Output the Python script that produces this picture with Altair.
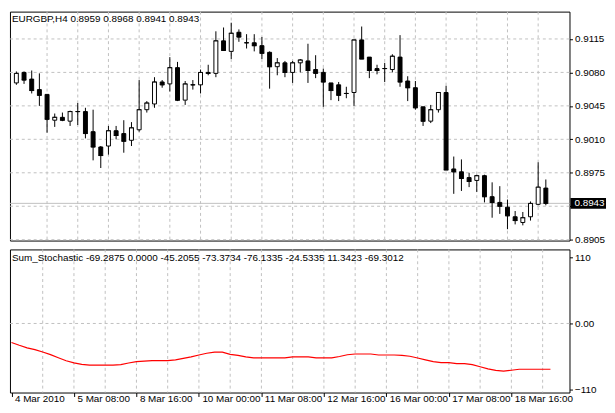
import altair as alt
import pandas as pd

symbol = "EURGBP,H4"
bars = list(range(70))
opens = [0.9069, 0.9080, 0.9073, 0.9062, 0.9057, 0.9030, 0.9033, 0.9029, 0.9039, 0.9039,
         0.9018, 0.9002, 0.9003, 0.9019, 0.9016, 0.9009, 0.9020, 0.9041, 0.9047, 0.9070,
         0.9068, 0.9085, 0.9051, 0.9067, 0.9067, 0.9080, 0.9079, 0.9113, 0.9102, 0.9122,
         0.9111, 0.9111, 0.9108, 0.9101, 0.9086, 0.9090, 0.9080, 0.9090, 0.9092, 0.9083,
         0.9080, 0.9069, 0.9067, 0.9058, 0.9059, 0.9114, 0.9096, 0.9084, 0.9084, 0.9083,
         0.9096, 0.9071, 0.9064, 0.9044, 0.9029, 0.9041, 0.9059, 0.8979, 0.8976, 0.8970,
         0.8967, 0.8972, 0.8950, 0.8944, 0.8939, 0.8929, 0.8923, 0.8929, 0.8942, 0.8959]
highs = [0.9081, 0.9081, 0.9082, 0.9079, 0.9057, 0.9037, 0.9038, 0.9040, 0.9048, 0.9043,
         0.9041, 0.9003, 0.9024, 0.9024, 0.9030, 0.9028, 0.9072, 0.9050, 0.9075, 0.9072,
         0.9096, 0.9091, 0.9071, 0.9072, 0.9083, 0.9088, 0.9123, 0.9127, 0.9132, 0.9125,
         0.9120, 0.9120, 0.9117, 0.9102, 0.9095, 0.9092, 0.9092, 0.9094, 0.9110, 0.9098,
         0.9084, 0.9069, 0.9070, 0.9065, 0.9114, 0.9128, 0.9096, 0.9088, 0.9090, 0.9099,
         0.9119, 0.9076, 0.9071, 0.9044, 0.9046, 0.9059, 0.9066, 0.8992, 0.8989, 0.8975,
         0.8973, 0.8973, 0.8965, 0.8961, 0.8947, 0.8935, 0.8934, 0.8945, 0.8986, 0.8968]
lows = [0.9067, 0.9068, 0.9058, 0.9045, 0.9017, 0.9023, 0.9029, 0.9024, 0.9025, 0.9011,
        0.8988, 0.8980, 0.8994, 0.9010, 0.8996, 0.9003, 0.9018, 0.9038, 0.9043, 0.9064,
        0.9060, 0.9050, 0.9046, 0.9062, 0.9058, 0.9077, 0.9075, 0.9103, 0.9094, 0.9112,
        0.9105, 0.9102, 0.9094, 0.9063, 0.9077, 0.9075, 0.9069, 0.9080, 0.9069, 0.9074,
        0.9044, 0.9051, 0.9050, 0.9053, 0.9045, 0.9094, 0.9074, 0.9078, 0.9070, 0.9080,
        0.9065, 0.9050, 0.9041, 0.9024, 0.9027, 0.9038, 0.8978, 0.8953, 0.8956, 0.8960,
        0.8955, 0.8944, 0.8928, 0.8932, 0.8916, 0.8921, 0.8920, 0.8925, 0.8941, 0.8941]
closes = [0.9079, 0.9072, 0.9061, 0.9056, 0.9031, 0.9033, 0.9030, 0.9039, 0.9039, 0.9016,
          0.9002, 0.8993, 0.9019, 0.9014, 0.9008, 0.9022, 0.9041, 0.9048, 0.9070, 0.9067,
          0.9085, 0.9051, 0.9068, 0.9067, 0.9080, 0.9079, 0.9113, 0.9103, 0.9121, 0.9117,
          0.9111, 0.9108, 0.9100, 0.9086, 0.9090, 0.9080, 0.9090, 0.9093, 0.9082, 0.9079,
          0.9070, 0.9061, 0.9056, 0.9058, 0.9114, 0.9094, 0.9082, 0.9082, 0.9084, 0.9097,
          0.9070, 0.9064, 0.9043, 0.9029, 0.9041, 0.9059, 0.8978, 0.8976, 0.8969, 0.8966,
          0.8972, 0.8950, 0.8944, 0.8940, 0.8930, 0.8925, 0.8928, 0.8943, 0.8960, 0.8943]
stoch = [-31.7, -36.3, -40.5, -43.5, -47.5, -51.8, -57.0, -62.0, -65.5, -68.0,
         -69.4, -69.4, -69.4, -69.4, -68.5, -65.8, -63.5, -62.5, -61.9, -61.9,
         -61.9, -60.5, -58.0, -55.6, -52.5, -49.5, -47.6, -47.6, -51.4, -53.0,
         -55.5, -57.2, -57.2, -57.2, -57.2, -57.2, -55.6, -55.6, -55.6, -57.2,
         -57.2, -57.2, -55.0, -52.0, -50.8, -50.8, -50.8, -52.4, -52.4, -52.4,
         -53.0, -54.5, -57.5, -60.5, -63.5, -65.1, -65.1, -66.7, -66.7, -68.5,
         -72.0, -75.5, -78.0, -79.4, -77.8, -76.2, -76.2, -76.2, -76.2, -76.2]
stoch_legend = "Sum_Stochastic -69.2875 0.0000 -45.2055 -73.3734 -76.1335 -24.5335 11.3423 -69.3012"

time_label_bars = [0, 8, 16, 24, 32, 40, 48, 56, 64]
time_labels = ["4 Mar 2010", "5 Mar 08:00", "8 Mar 16:00", "10 Mar 00:00", "11 Mar 08:00",
               "12 Mar 16:00", "16 Mar 00:00", "17 Mar 08:00", "18 Mar 16:00"]
grid_bars = [4, 8, 12, 16, 20, 24, 28, 32, 36, 40, 44, 48, 52, 56, 60, 64, 68]
price_levels = [0.8905, 0.8940, 0.8975, 0.9010, 0.9045, 0.9080, 0.9115]
hidden_level = 0.8940
stoch_levels = [-110, 0, 110]

FONT = "Liberation Sans"
FS = 10
W = 567
H_TOP = 232
H_BOT = 145
GRID = "#c0c0c0"

df = pd.DataFrame({"bar": bars, "open": opens, "high": highs, "low": lows, "close": closes})
df["fill"] = ["white" if c >= o else "black" for o, c in zip(opens, closes)]
last_df = pd.DataFrame({"price": [closes[-1]]})
title_df = pd.DataFrame({"t": [f"{symbol}  {opens[-1]:.4f} {highs[-1]:.4f} {lows[-1]:.4f} {closes[-1]:.4f}"]})
stoch_df = pd.DataFrame({"bar": bars, "value": stoch})
legend_df = pd.DataFrame({"t": [stoch_legend]})

xs = alt.Scale(domain=[-0.19, 71.44], nice=False, zero=False)
ys_top = alt.Scale(domain=[0.89041, 0.91436], nice=False, zero=False)
ys_bot = alt.Scale(domain=[-114.9, 123.2], nice=False, zero=False)

price_axis = alt.Axis(
    orient="right", values=price_levels,
    labelExpr=f"abs(datum.value - {hidden_level}) < 0.00001 ? '' : format(datum.value, '.4f')",
    grid=False, domain=False, ticks=True, tickSize=3, tickColor="black", labelPadding=2,
    labelFont=FONT, labelFontSize=FS, labelColor="black", title=None, zindex=1)

labels_js = "[" + ",".join(f"'{t}'" for t in time_labels) + "]"
bars_js = "[" + ",".join(str(b) for b in time_label_bars) + "]"
time_axis = alt.Axis(
    orient="bottom", values=time_label_bars,
    labelExpr=f"{labels_js}[indexof({bars_js}, datum.value)]",
    grid=False, domain=False, ticks=True, tickSize=4, tickColor="black",
    labelAlign="left", labelBaseline="top", labelPadding=-3, labelOffset=3,
    labelFlush=False, labelOverlap=False,
    labelFont=FONT, labelFontSize=FS, labelColor="black", title=None, zindex=1)

stoch_axis = alt.Axis(
    orient="right", values=stoch_levels,
    labelExpr="datum.value == 0 ? '0.00' : format(datum.value, 'd')",
    grid=False, domain=False, ticks=True, tickSize=3, tickColor="black", labelPadding=2,
    labelFont=FONT, labelFontSize=FS, labelColor="black", title=None, zindex=1)

grid_df = pd.DataFrame({"g": grid_bars})

# ---------- top panel ----------
X_top = alt.X("bar:Q", scale=xs, axis=None)
vgrid_top = alt.Chart(grid_df).mark_rule(color=GRID, strokeDash=[3, 3], strokeWidth=1).encode(
    x=alt.X("g:Q", scale=xs, axis=None))
hgrid_top = alt.Chart(pd.DataFrame({"p": price_levels})).mark_rule(
    color=GRID, strokeDash=[3, 3], strokeWidth=1).encode(
    y=alt.Y("p:Q", scale=ys_top, axis=price_axis))
bid = alt.Chart(last_df).mark_rule(color="#c0c0c0", strokeWidth=1).encode(
    y=alt.Y("price:Q", scale=ys_top, axis=price_axis))

base = alt.Chart(df)
wicks = base.mark_rule(color="black", strokeWidth=1, clip=True).encode(
    x=X_top, y=alt.Y("low:Q", scale=ys_top, axis=price_axis), y2="high:Q")
bodies = base.mark_bar(size=4, stroke="black", strokeWidth=1, clip=True).encode(
    x=X_top, y=alt.Y("open:Q", scale=ys_top, axis=price_axis), y2="close:Q",
    fill=alt.Fill("fill:N", scale=None))
doji = base.mark_tick(orient="horizontal", size=5, thickness=1, color="black", clip=True).encode(
    x=X_top, y=alt.Y("close:Q", scale=ys_top, axis=price_axis))

box = alt.Chart(last_df).mark_rect(color="black", yOffset=-5.5, y2Offset=5.5).encode(
    x=alt.value(568), x2=alt.value(604),
    y=alt.Y("price:Q", scale=ys_top, axis=price_axis), y2="price:Q")
last_text = alt.Chart(last_df).mark_text(
    color="white", align="left", baseline="middle", font=FONT, fontSize=FS).encode(
    x=alt.value(572), y=alt.Y("price:Q", scale=ys_top, axis=price_axis),
    text=alt.Text("price:Q", format=".4f"))
title_text = alt.Chart(title_df).mark_text(
    align="left", baseline="top", font=FONT, fontSize=FS, color="black").encode(
    x=alt.value(2), y=alt.value(3), text="t:N")

top = alt.layer(vgrid_top, hgrid_top, bid, wicks, bodies, doji, box, last_text, title_text).properties(
    width=W, height=H_TOP)

# ---------- bottom panel ----------
vgrid_bot = alt.Chart(grid_df).mark_rule(color=GRID, strokeDash=[3, 3], strokeWidth=1).encode(
    x=alt.X("g:Q", scale=xs, axis=time_axis))
hgrid_bot = alt.Chart(pd.DataFrame({"s": [0]})).mark_rule(
    color=GRID, strokeDash=[3, 3], strokeWidth=1).encode(
    y=alt.Y("s:Q", scale=ys_bot, axis=stoch_axis))
line = alt.Chart(stoch_df).mark_line(color="#ff0000", strokeWidth=1.2).encode(
    x=alt.X("bar:Q", scale=xs, axis=time_axis),
    y=alt.Y("value:Q", scale=ys_bot, axis=stoch_axis))
legend_text = alt.Chart(legend_df).mark_text(
    align="left", baseline="top", font=FONT, fontSize=FS, color="black").encode(
    x=alt.value(2), y=alt.value(4), text="t:N")

bot = alt.layer(vgrid_bot, hgrid_bot, line, legend_text).properties(width=W, height=H_BOT)

chart = alt.vconcat(top, bot, spacing=3).resolve_scale(
    x="independent", y="independent").properties(
    padding=0, background="white").configure_view(stroke="black", strokeWidth=1)

chart.save("out.html", embed_options={"renderer": "svg", "actions": False})
